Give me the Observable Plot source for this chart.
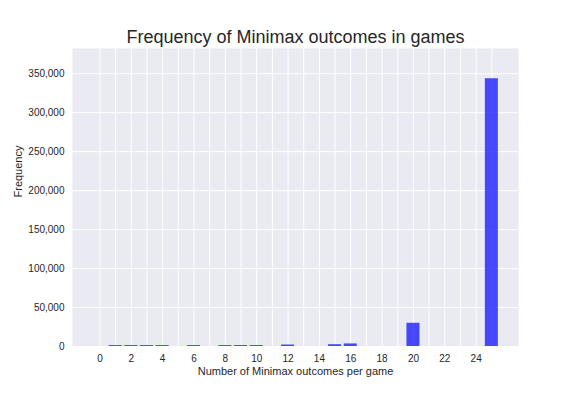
<!DOCTYPE html>
<html>
<head>
<meta charset="utf-8">
<script src="https://cdn.jsdelivr.net/npm/d3@7"></script>
<script src="https://cdn.jsdelivr.net/npm/@observablehq/plot@0.6"></script>
<style>
  html, body { margin: 0; padding: 0; background: white; }
</style>
</head>
<body>
<div id="chart"></div>
<script>
const outcomes = [1, 2, 3, 4, 6, 8, 9, 10, 12, 15, 16, 20, 25];
const frequencies = [1200, 1200, 1200, 1200, 1200, 1200, 1200, 1200, 1900, 2300, 3300, 29800, 343600];
const xTickLabels = [0, 2, 4, 6, 8, 10, 12, 14, 16, 18, 20, 22, 24];
const xGridTicks = d3.range(0, 26);
const yTicks = [0, 50000, 100000, 150000, 200000, 250000, 300000, 350000];
const title = "Frequency of Minimax outcomes in games";
const xLabel = "Number of Minimax outcomes per game";
const yLabel = "Frequency";

const data = outcomes.map((k, i) => ({k, v: frequencies[i]}));
const halfWidth = 0.415;
const font = "'Liberation Sans', Arial, sans-serif";

const chart = Plot.plot({
  width: 576,
  height: 396,
  marginLeft: 72,
  marginRight: 58,
  marginTop: 48,
  marginBottom: 50,
  style: {fontFamily: font, background: "white", color: "#262626"},
  x: {domain: [-1.75, 26.7]},
  y: {domain: [0, 382400]},
  marks: [
    Plot.frame({fill: "#EAEAF2", stroke: null}),
    Plot.gridX(xGridTicks, {stroke: "white", strokeOpacity: 1, strokeWidth: 1}),
    Plot.gridY(yTicks, {stroke: "white", strokeOpacity: 1, strokeWidth: 1}),
    Plot.rectY(data, {
      x1: d => d.k - halfWidth,
      x2: d => d.k + halfWidth,
      y1: 0,
      y2: "v",
      fill: "blue",
      fillOpacity: 0.7
    }),
    Plot.axisX(xTickLabels, {tickSize: 0, tickPadding: 8, fontSize: 10, fill: "#262626", label: null}),
    Plot.axisY(yTicks, {tickSize: 0, tickPadding: 8, fontSize: 10, fill: "#262626", tickFormat: d3.format(","), label: null}),
    Plot.text([xLabel], {frameAnchor: "bottom", lineAnchor: "middle", dy: 25, fontSize: 11, fill: "#262626"}),
    Plot.text([yLabel], {frameAnchor: "left", dx: -54, rotate: -90, fontSize: 11, fill: "#262626"}),
    Plot.text([title], {frameAnchor: "top", lineAnchor: "middle", dy: -11, fontSize: 18, fill: "#262626"})
  ]
});
document.getElementById("chart").appendChild(chart);
</script>
</body>
</html>
